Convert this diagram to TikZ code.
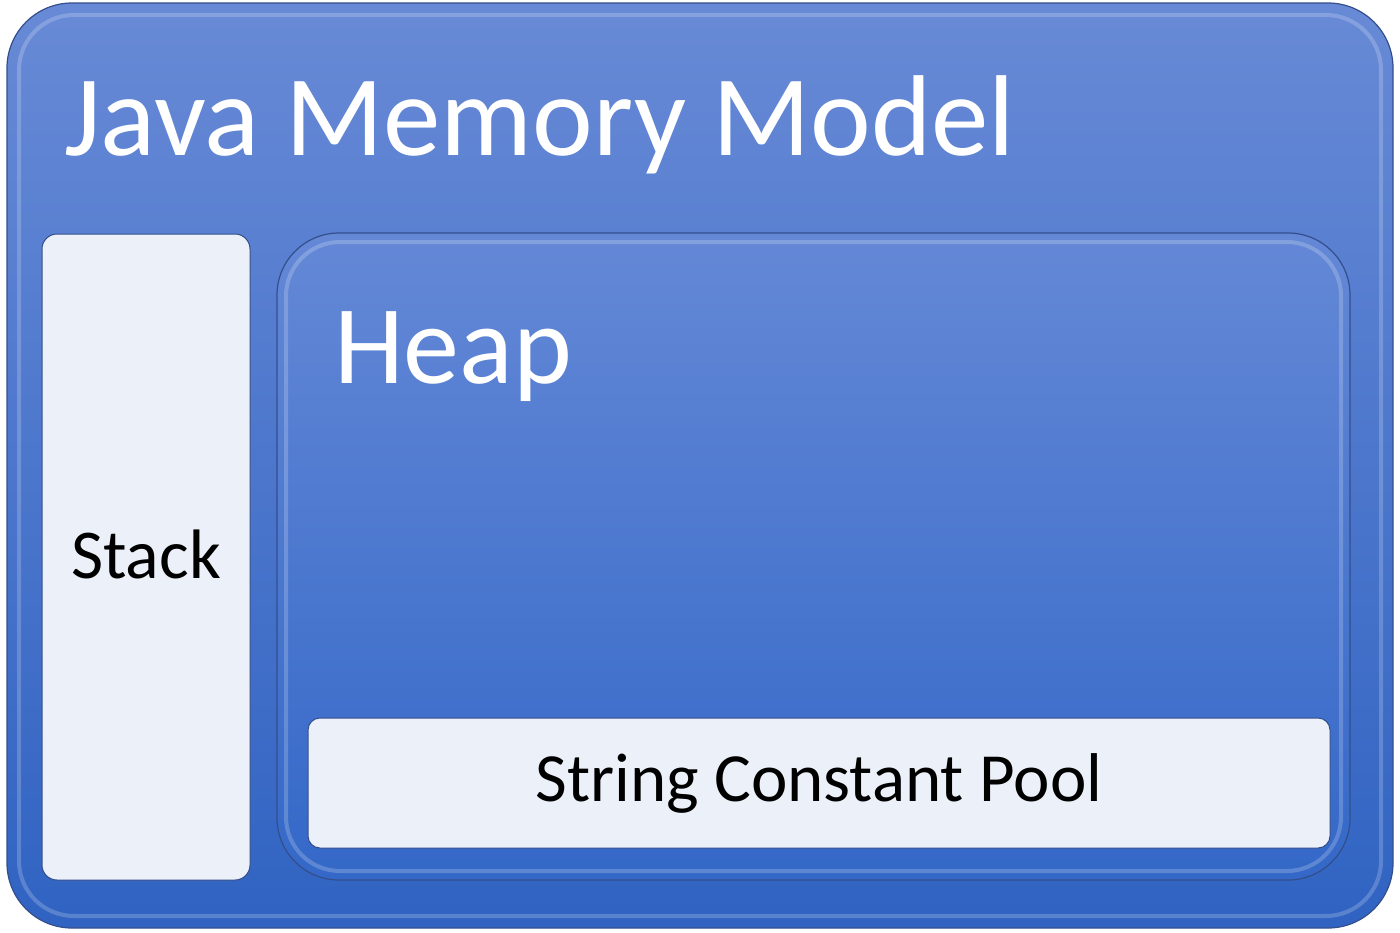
\documentclass[tikz,border=0pt]{standalone}
\usepackage{fontspec}
\setmainfont{Carlito}
\definecolor{blueTop}{RGB}{104,138,214}
\definecolor{blueBot}{RGB}{48,99,194}
\definecolor{heapTop}{RGB}{100,136,214}
\definecolor{heapBot}{RGB}{52,104,200}
\definecolor{rimDark}{RGB}{52,78,140}
\definecolor{paleFill}{RGB}{236,241,249}
\tikzset{
  outerbox/.style={draw=rimDark, line width=1.2pt, rounded corners=65pt, top color=blueTop, bottom color=blueBot, inner sep=0pt},
  heapbox/.style={draw=rimDark, line width=1.2pt, rounded corners=62pt, top color=heapTop, bottom color=heapBot, inner sep=0pt},
  rim/.style={draw=white, draw opacity=0.2, line width=4pt, fill=none, inner sep=0pt},
  palebox/.style={draw=rimDark, line width=1pt, fill=paleFill, inner sep=0pt},
  whitetitle/.style={text=white, inner sep=0pt, anchor=base west},
  blacklabel/.style={text=black, inner sep=0pt},
}
\begin{document}
\begin{tikzpicture}[x=1pt,y=-1pt]
\useasboundingbox (0,0) rectangle (1400,932);
% outer box
\node[outerbox, minimum width=1386pt, minimum height=925pt] (jmm) at (700,465.5) {};
\node[rim, rounded corners=55pt, minimum width=1362pt, minimum height=901pt] (jmmrim) at (700,465.5) {};
\node[whitetitle, font=\fontsize{115}{120}\selectfont] (title) at (64,155) {Java Memory Model};
% stack
\node[palebox, rounded corners=15pt, minimum width=208pt, minimum height=646pt] (stack) at (146,557) {};
\node[blacklabel, font=\fontsize{70}{74}\selectfont] (stacklbl) at (146,554) {Stack};
% heap
\node[heapbox, minimum width=1073pt, minimum height=647pt] (heap) at (813.5,556.5) {};
\node[rim, rounded corners=54pt, minimum width=1055pt, minimum height=629pt] (heaprim) at (813.5,556.5) {};
\node[whitetitle, font=\fontsize{112}{116}\selectfont] (heaplbl) at (334,383) {Heap};
% string pool
\node[palebox, rounded corners=12pt, minimum width=1022pt, minimum height=130pt] (pool) at (819,783) {};
\node[blacklabel, font=\fontsize{69}{72}\selectfont] (poollbl) at (pool.center) {String Constant Pool};
\end{tikzpicture}
\end{document}
